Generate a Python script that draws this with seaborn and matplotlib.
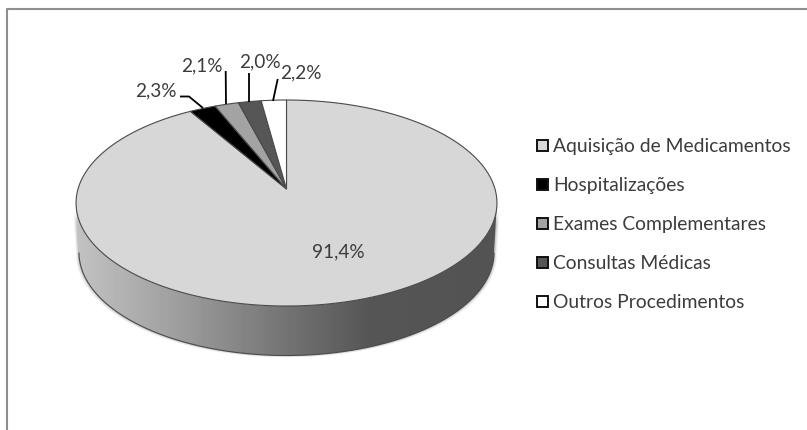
import numpy as np
import matplotlib
matplotlib.use("Agg")
import matplotlib.pyplot as plt
from matplotlib.path import Path
from matplotlib.patches import PathPatch, Rectangle
import seaborn as sns

categories = ["Aquisição de Medicamentos", "Hospitalizações", "Exames Complementares",
              "Consultas Médicas", "Outros Procedimentos"]
values = [91.4, 2.3, 2.1, 2.0, 2.2]
value_labels = ["91,4%", "2,3%", "2,1%", "2,0%", "2,2%"]
colors = ["#d7d7d7", "#000000", "#a3a3a3", "#565656", "#ffffff"]
wall_stops_x = [77, 170, 287, 370, 497]
wall_stops_gray = [0.76, 0.63, 0.45, 0.335, 0.325]

sns.set_theme(style="white")
plt.rcParams["font.family"] = ["Lato", "DejaVu Sans"]
TEXT = "#3c3c3c"

fig = plt.figure(figsize=(8.07, 4.31), dpi=100)
ax = fig.add_axes([0, 0, 1, 1])

wedges, _ = ax.pie(values, colors=sns.color_palette(colors), startangle=90, counterclock=False,
                   center=(0, 0), radius=1, wedgeprops=dict(linewidth=0.8, edgecolor="#4a4a4a"))
ax.set_aspect("auto")
ax.set_xlim(0, 807)
ax.set_ylim(431, 0)
ax.axis("off")

# perspective of the tilted disc (pixel coordinates of the figure)
AX, AY, BX, BY, K = 286.5, 190.0, 208.5, 101.1, 0.136


def warp(xy):
    xy = np.asarray(xy, float)
    w = 1 + K * xy[:, 1]
    return np.column_stack([AX + BX * xy[:, 0] / w, AY - BY * xy[:, 1] / w])


# side wall with a horizontal gradient
t = np.linspace(0, 2 * np.pi, 1441)
rim = warp(np.column_stack([np.cos(t), np.sin(t)]))
DEPTH = 49.5
lower = rim[rim[:, 1] >= 204]
lower = lower[np.argsort(lower[:, 0])]
bottom = lower + [0, DEPTH]
bottom[:, 0] = AX + (bottom[:, 0] - AX) * 0.986
wall = np.vstack([lower, bottom[::-1]])
grad_x = np.arange(70, 505)
grad = np.interp(grad_x, wall_stops_x, wall_stops_gray)[None, :]

# soft shadow around the wall
for off, a in ((3.0, 0.05), (2.0, 0.08), (1.0, 0.12)):
    ax.fill(wall[:, 0] + np.sign(wall[:, 0] - AX) * off, wall[:, 1] + off * 0.6,
            color="#000000", alpha=a, lw=0, zorder=0.5)
im = ax.imshow(grad, cmap="gray", vmin=0, vmax=1, aspect="auto",
               extent=(70, 505, 431, 0), zorder=0.8)
wp = PathPatch(Path(np.vstack([wall, wall[0]])), transform=ax.transData, fc="none", ec="none")
ax.add_patch(wp)
im.set_clip_path(wp)
ax.set_xlim(0, 807)
ax.set_ylim(431, 0)
ax.plot(bottom[:, 0], bottom[:, 1], color="#4a4a4a", lw=0.8, zorder=0.9)

# warp the pie slices onto the disc, following each slice's own angles
for w in wedges:
    th = np.radians(np.linspace(w.theta1, w.theta2, 200))
    poly = np.vstack([[w.center], np.column_stack([np.cos(th), np.sin(th)]) * w.r, [w.center]])
    w._path = Path(warp(poly), closed=True)
    w.set_zorder(2)

# value labels and leader lines
FS = 13.7
ax.text(338, 251.5, value_labels[0], ha="center", va="center", fontsize=FS, color=TEXT)
ax.text(155.5, 91, value_labels[1], ha="center", va="center", fontsize=FS, color=TEXT)
ax.text(202, 65.5, value_labels[2], ha="center", va="center", fontsize=FS, color=TEXT)
ax.text(259.5, 62, value_labels[3], ha="center", va="center", fontsize=FS, color=TEXT)
ax.text(301, 73, value_labels[4], ha="center", va="center", fontsize=FS, color=TEXT)
for xs, ys in (([180, 189, 203], [97.5, 97.5, 109]),
               ([225.7, 226], [72, 105]),
               ([249, 249], [74, 103]),
               ([277.7, 273], [80, 102])):
    ax.plot(xs, ys, color="#000000", lw=1.3, zorder=3, solid_capstyle="butt")

# legend
legend_y = [146, 185, 224, 263, 302]
for name, col, y in zip(categories, colors, legend_y):
    ax.add_patch(Rectangle((537, y - 5.5), 10.5, 11, fc=col, ec="#111111", lw=1.4, zorder=3))
    ax.text(553, y + 6, name, ha="left", va="baseline", fontsize=13.85, color=TEXT)

# chart frame
ax.plot([6.5, 6.5, 807], [431, 9.5, 9.5], color="#8f8f8f", lw=1.5, zorder=1)

fig.savefig("out.png", dpi=100, facecolor="white")
